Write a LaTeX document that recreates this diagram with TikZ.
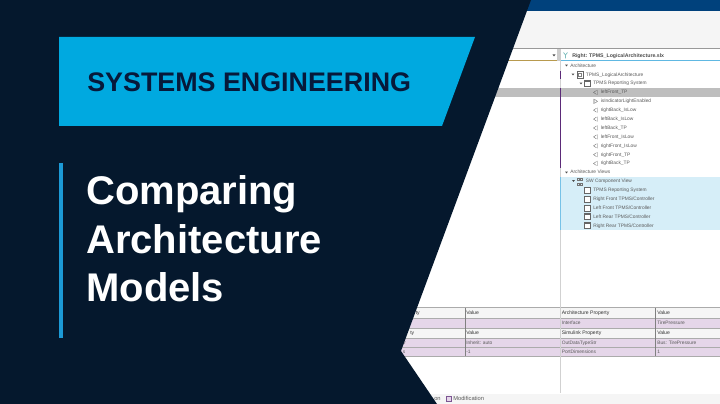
\documentclass[tikz,border=0pt]{standalone}
\usepackage{fontspec}
\setmainfont{Liberation Sans}
\definecolor{tbnavy}{HTML}{05182D}
\definecolor{tbblue}{HTML}{00A9E0}
\definecolor{tbbar}{HTML}{1C9AD6}
\definecolor{tbink}{HTML}{07193A}
\definecolor{tbtop}{HTML}{00417C}
\definecolor{tbtool}{HTML}{F5F5F5}
\definecolor{tbgrey}{HTML}{BEBEBE}
\definecolor{tbline}{HTML}{ABABAB}
\definecolor{tbsel}{HTML}{D6EEF8}
\definecolor{tbpurple}{HTML}{5B2A78}
\definecolor{tbmod}{HTML}{E5D6E9}
\definecolor{tbgold}{HTML}{B89A4E}
\definecolor{tbtext}{HTML}{5A5A5A}

\begin{document}
\begin{tikzpicture}[x=0.25mm,y=-0.25mm,
  bigtitle/.style={anchor=base west,inner sep=0pt,text=white,font=\fontsize{28.45}{30}\selectfont\bfseries},
  tagtitle/.style={anchor=base west,inner sep=0pt,text=tbink,font=\fontsize{19.1}{21}\selectfont\bfseries},
  rowtxt/.style={anchor=base west,inner sep=0pt,text=tbtext,font=\fontsize{3.45}{4}\selectfont},
  cellhdr/.style={anchor=base west,inner sep=0pt,text=black!80,font=\fontsize{3.6}{4}\selectfont},
  gridln/.style={draw=tbline,line width=0.35pt},
  comp/.style={draw=black!60,fill=white,line width=0.25pt},
  porticon/.style={draw=black!60,line width=0.25pt},
  openmark/.style={fill=black!70,draw=none}
]
\useasboundingbox (0,0) rectangle (720,404);
\fill[white] (0,0) rectangle (720,404);

% ---- Tool window behind the panel ---------------------------
\fill[tbtop] (500,0) rectangle (720,11);
\fill[tbtool] (480,11) rectangle (720,48);
\fill[black!40] (480,48) rectangle (720,49.2);
\fill[tbgold] (480,60) rectangle (557,61);
\fill[tbbar!70] (561,60) rectangle (720,61);
\fill[black!20] (557,49.2) rectangle (560.5,61);
\fill[openmark] (552.5,54.5) -- (555.5,54.5) -- (554,56.5) -- cycle;
\draw[teal!50,line width=0.5pt] (563.5,52.5) -- (565.5,55) -- (567.5,52.5) (565.5,55) -- (565.5,58.5);
\node[rowtxt,text=black!70,font=\fontsize{3.7}{4}\selectfont\bfseries] (rhdr) at (572,57.2) {Right: TPMS\_LogicalArchitecture.slx};

% ---- Selected rows and divider ------------------------------
\fill[tbgrey] (480,88) rectangle (720,97);
\fill[tbsel] (560,177) rectangle (720,230);
\fill[black!18] (559.5,61) rectangle (561,393);
\fill[tbbar!60] (560,177) rectangle (561,230);
\fill[tbpurple] (559.7,70.7) rectangle (561,79.3);
\fill[tbpurple] (559.7,88) rectangle (561,168);

% ---- Tree ---------------------------------------------------
\foreach \y/\x/\lbl in {67.2/570/Architecture,76.1/585.7/TPMS\_LogicalArchitecture,85/593/TPMS Reporting System,
    173.9/570/Architecture Views,182.8/585.7/SW Component View,
    191.7/593/TPMS Reporting System,200.6/593/{Right Front TPMS/Controller},209.5/593/{Left Front TPMS/Controller},
    218.4/593/{Left Rear TPMS/Controller},227.2/593/{Right Rear TPMS/Controller}}
  \node[rowtxt] at (\x,\y) {\lbl};
\foreach \y/\lbl in {93.9/leftFront\_TP,111.7/rightBack\_IsLow,120.6/leftBack\_IsLow,129.5/leftBack\_TP,
    138.4/leftFront\_IsLow,147.3/rightFront\_IsLow,156.2/rightFront\_TP,165/rightBack\_TP}{
  \node[rowtxt] at (600.5,\y) {\lbl};
  \draw[porticon] (596.5,\y-3.5) -- (593.5,\y-1.5) -- (596.5,\y+0.5) (597.5,\y-4) -- (597.5,\y+1);
}
\node[rowtxt] at (600.5,102.8) {isIndicatorLightEnabled};
\draw[porticon] (593.5,99) -- (593.5,104) (594.5,99.3) -- (597.5,101.3) -- (594.5,103.3) -- cycle;

% expand marks
\foreach \x/\y in {566.5/65.5,573/74.5,581/83.5,566.5/172.5,573.5/181}
  \fill[openmark] (\x-1.3,\y-0.8) -- (\x+1.3,\y-0.8) -- (\x,\y+1) -- cycle;

% component icons
\foreach \y in {83.5,190,199,207.8,216.6,225.5}{
  \draw[comp] (584.5,\y-3) rectangle (590.5,\y+3);
  \draw[black!60,line width=0.5pt] (584.5,\y-2.6) -- (590.5,\y-2.6);
}
\draw[comp] (577,71.5) rectangle (583,78);
\draw[black!50,line width=0.25pt] (578.5,73.5) rectangle (581.5,76);
\foreach \x/\y in {578/179,581.5/179,578/184,581.5/184}
  \draw[black!55,line width=0.25pt] (\x-1,\y-1) rectangle (\x+1,\y+1);

% ---- Property tables ----------------------------------------
\fill[tbtool] (395,308) rectangle (720,318);
\fill[tbmod] (395,318) rectangle (720,328);
\fill[tbtool] (395,328) rectangle (720,338.5);
\fill[tbmod] (395,338.5) rectangle (720,356);
\foreach \y in {307.7,318,328,338.5,347.5,356}
  \draw[gridln] (395,\y) -- (720,\y);
\foreach \x in {465,655.7}
  \draw[gridln,draw=black!50] (\x,307.7) -- (\x,356);
\fill[black!18] (559.5,307) rectangle (561,357);

\foreach \y/\lbl in {314.5/Value,334.5/Value}
  \node[cellhdr] at (466,\y) {\lbl};
\node[rowtxt] at (466,344.5) {Inherit: auto};
\node[rowtxt] at (466,353.5) {-1};
\node[cellhdr] at (561.5,314.5) {Architecture Property};
\node[cellhdr] at (561.5,334.5) {Simulink Property};
\node[cellhdr] at (657,314.5) {Value};
\node[cellhdr] at (657,334.5) {Value};
\node[rowtxt] at (561.5,324.5) {Interface};
\node[rowtxt] at (657,324.5) {TirePressure};
\node[rowtxt] at (561.5,344.5) {OutDataTypeStr};
\node[rowtxt] at (657,344.5) {Bus: TirePressure};
\node[rowtxt] at (561.5,353.5) {PortDimensions};
\node[rowtxt] at (657,353.5) {1};

% ---- Footer strip -------------------------------------------
\fill[tbtool] (420,394) rectangle (720,404);
\node[rowtxt,font=\fontsize{4.1}{5}\selectfont] at (434,400.5) {on};
\draw[draw=tbpurple!80,fill=tbmod,line width=0.5pt] (446,396.5) rectangle (451,401.5);
\node[rowtxt,font=\fontsize{4.1}{5}\selectfont] at (453,400.5) {Modification};

% ---- Navy panel ---------------------------------------------
\fill[tbnavy] (0,0) -- (531,0) -- (401,351) -- (437,404) -- (0,404) -- cycle;
\fill[tbblue] (59,37) -- (475,37) -- (442,126) -- (59,126) -- cycle;
\fill[tbbar] (59,163) rectangle (62.5,338);

% cut-off cell ends beside the panel
\node[cellhdr] at (415.5,314.5) {ty};
\node[cellhdr] at (410,334.5) {ty};
\node[rowtxt] at (404,344.5) {r};
\node[rowtxt] at (402.5,353.5) {s};

\node[tagtitle] (tag) at (87,91.7) {SYSTEMS ENGINEERING};
\node[bigtitle] (tline1) at (86,205) {Comparing};
\node[bigtitle] (tline2) at (86,253.5) {Architecture};
\node[bigtitle] (tline3) at (86,302) {Models};
\end{tikzpicture}
\end{document}
